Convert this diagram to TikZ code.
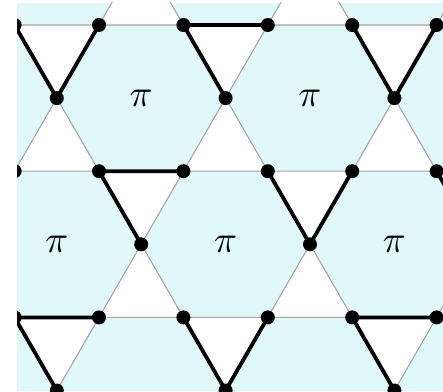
\documentclass[tikz,border=0pt]{standalone}
\usepackage{graphicx}
\definecolor{cyanbg}{RGB}{224,248,250}
\definecolor{edgegray}{RGB}{165,165,165}
\tikzset{
  tri/.style={fill=white,draw=edgegray,line width=1.1pt,line join=round},
  bond/.style={draw=black,line width=3.8pt,line cap=round},
  site/.style={fill=black},
  plabel/.style={inner sep=0pt}
}
\newcommand{\bigpi}{\scalebox{3.8}{$\pi$}}
\begin{document}
\begin{tikzpicture}[x=1pt,y=1pt]
\def\a{84.4}
\def\h{73.1}
\useasboundingbox (0,0) rectangle (443,391);
\fill[cyanbg] (17,0) rectangle (443,388);
\begin{scope}
\clip (17,0) rectangle (443,388);
% even-row vertices
\foreach \k in {0,2,4} {
  \foreach \j in {0,...,7} {
    \coordinate (v\k x\j) at ({99+\a*(\j-2)},{366-\h*\k});
  }
}
% odd-row vertices
\foreach \j in {1,3,5} {
  \coordinate (o1x\j) at ({99+\a*(\j-2)+\a/2},{366-\h});
  \coordinate (o5x\j) at ({99+\a*(\j-2)+\a/2},{366-5*\h});
}
\foreach \j in {0,2,4,6} {
  \coordinate (o3x\j) at ({99+\a*(\j-2)+\a/2},{366-3*\h});
}
% triangles
\foreach \k in {0,2,4} {
  \foreach \i in {-2,...,4} {
    \pgfmathtruncatemacro\m{\k/2}
    \pgfmathtruncatemacro\pp{mod(\i+\m+10,2)}
    \pgfmathsetmacro\s{ifthenelse(\pp==1,-1,1)}
    \filldraw[tri] ({99+\a*\i},{366-\h*\k}) -- ({99+\a*(\i+1)},{366-\h*\k})
      -- ({99+\a*\i+\a/2},{366-\h*\k+\s*\h}) -- cycle;
  }
}
% thick bonds
\draw[bond] (v0x1) -- (o1x1) -- (v0x2);
\draw[bond] (v0x4) -- (v0x3) -- (o1x3);
\draw[bond] (v0x5) -- (o1x5) -- (v0x6);
\draw[bond] (v2x0) -- (o3x0) -- (v2x1);
\draw[bond] (v2x3) -- (v2x2) -- (o3x2);
\draw[bond] (v2x4) -- (o3x4) -- (v2x5);
\draw[bond] (v2x7) -- (v2x6) -- (o3x6);
\draw[bond] (v4x2) -- (v4x1) -- (o5x1);
\draw[bond] (v4x3) -- (o5x3) -- (v4x4);
\draw[bond] (v4x6) -- (v4x5) -- (o5x5);
% sites
\foreach \k in {0,2,4} {
  \foreach \j in {1,...,6} {
    \fill[site] (v\k x\j) circle (7);
  }
}
\foreach \j in {1,3,5} {
  \fill[site] (o1x\j) circle (7);
  \fill[site] (o5x\j) circle (7);
}
\foreach \j in {2,4} {
  \fill[site] (o3x\j) circle (7);
}
\end{scope}
% pi labels
\node[plabel] (p1) at ({99+\a/2},{366-\h}) {\bigpi};
\node[plabel] (p2) at ({99+2*\a+\a/2},{366-\h}) {\bigpi};
\node[plabel] (p3) at ({99-\a/2},{366-3*\h}) {\bigpi};
\node[plabel] (p4) at ({99+\a+\a/2},{366-3*\h}) {\bigpi};
\node[plabel] (p5) at ({99+3*\a+\a/2},{366-3*\h}) {\bigpi};
\end{tikzpicture}
\end{document}
